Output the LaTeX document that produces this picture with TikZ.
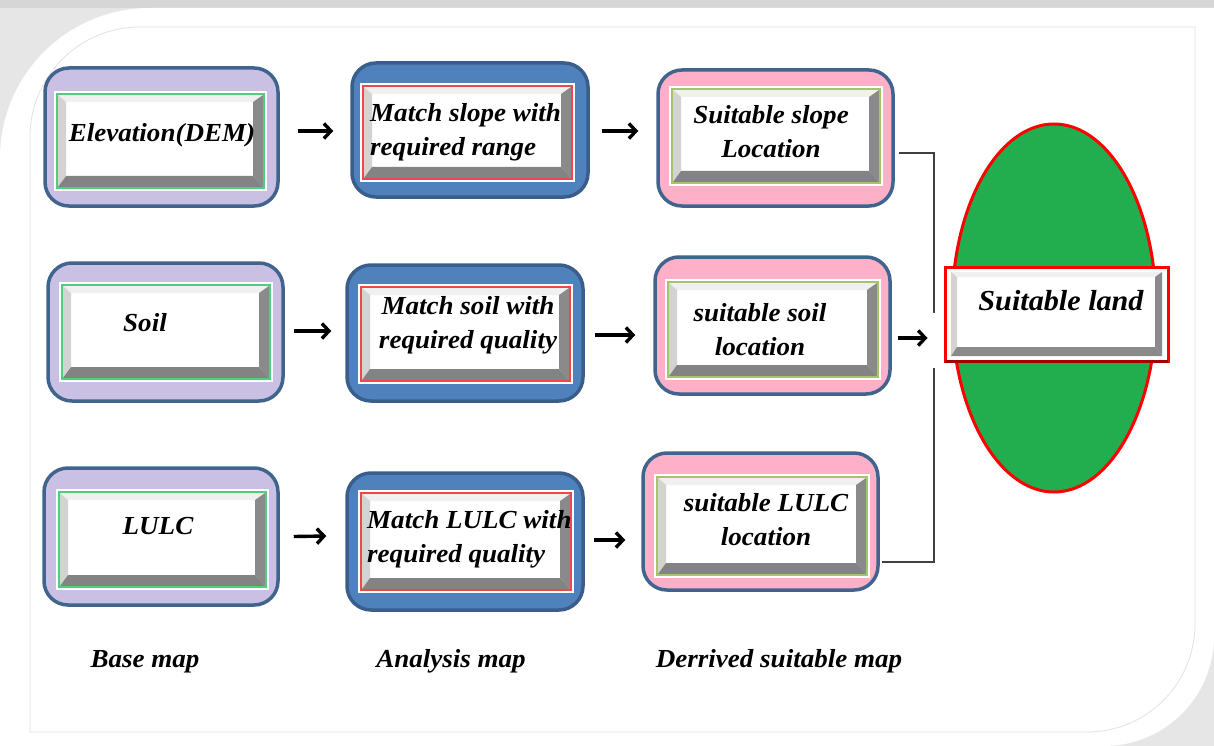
\documentclass[tikz,border=0pt]{standalone}
\usepackage{fontspec}
\setmainfont{Liberation Serif}[FakeStretch=1.04]
\usetikzlibrary{arrows.meta,calc,shapes.geometric}
\definecolor{frameblue}{HTML}{41648F}
\definecolor{anborder}{HTML}{3A5E8C}
\definecolor{anblue}{HTML}{4F81BD}
\definecolor{lav}{HTML}{C9C0E4}
\definecolor{pinkf}{HTML}{FDB0C8}
\definecolor{greenline}{HTML}{4DCF7F}
\definecolor{redline}{HTML}{F04848}
\definecolor{oliveline}{HTML}{A8C46A}
\definecolor{bevlight}{HTML}{D3D3D3}
\definecolor{bevtop}{HTML}{F0F0F0}
\definecolor{bevdark}{HTML}{8A8A8A}
\definecolor{landgreen}{HTML}{22AE4F}
\definecolor{shadowgray}{HTML}{E6E6E6}
\definecolor{topgray}{HTML}{D6D6D6}
\definecolor{innerline}{HTML}{E2E2E2}
\definecolor{connline}{HTML}{404040}
\newcommand\bevbox[5]{%
  \fill[white] (#1-3,#2-3) rectangle (#3+3,#4+3);
  \fill[white] (#1,#2) rectangle (#3,#4);
  \fill[bevtop] (#1+1,#2+1) -- (#3-1,#2+1) -- (#3-11,#2+8) -- (#1+9,#2+8) -- cycle;
  \fill[bevlight] (#1+1,#2+1) -- (#1+9,#2+8) -- (#1+9,#4-12) -- (#1+1,#4-1) -- cycle;
  \fill[bevdark] (#3-1,#2+1) -- (#3-1,#4-1) -- (#3-11,#4-12) -- (#3-11,#2+8) -- cycle;
  \fill[bevdark!95!black] (#1+1,#4-1) -- (#3-1,#4-1) -- (#3-11,#4-12) -- (#1+9,#4-12) -- cycle;
  \draw[#5, line width=1.6pt] (#1,#2) rectangle (#3,#4);
}
\begin{document}
\begin{tikzpicture}[x=1pt,y=-1pt,
  box/.style={rounded corners=24pt, line width=3.5pt, inner sep=0pt},
  basebox/.style={box, draw=frameblue, fill=lav},
  anbox/.style={box, draw=anborder, fill=anblue},
  derbox/.style={box, draw=frameblue, fill=pinkf},
  lbl/.style={font=\fontsize{26}{34}\selectfont\bfseries\itshape, inner sep=0pt, align=center, text=black},
  arr/.style={line width=3.4pt, -{Straight Barb[length=7pt,width=15pt]}},
  bracket/.style={line width=1.2pt, draw=connline}]
\useasboundingbox (0,0) rectangle (1214,746);
% frame
\fill[shadowgray] (0,0) rectangle (1214,746);
\fill[topgray] (0,0) rectangle (1214,8);
\fill[white] (0,746) -- (0,158) arc[start angle=180,end angle=270,radius=150] -- (1214,8) -- (1214,636) arc[start angle=0,end angle=90,radius=110] -- cycle;
\draw[innerline, line width=0.8pt] (30,732) -- (30,137) arc[start angle=180,end angle=270,radius=110] -- (1195,27) -- (1195,624) arc[start angle=0,end angle=90,radius=108] -- cycle;

% row 1
\node[basebox, minimum width=233pt, minimum height=138pt] (B1) at (161.5,137) {};
\node[anbox, minimum width=236pt, minimum height=134pt] (A1) at (470,130) {};
\node[derbox, minimum width=235pt, minimum height=136pt] (D1) at (775.5,138) {};
% row 2
\node[basebox, minimum width=235pt, minimum height=138pt] (B2) at (165.5,332) {};
\node[anbox, minimum width=236pt, minimum height=136pt] (A2) at (465,333) {};
\node[derbox, minimum width=235pt, minimum height=137pt] (D2) at (772.5,325.5) {};
% row 3
\node[basebox, minimum width=234pt, minimum height=137pt] (B3) at (161,536.5) {};
\node[anbox, minimum width=236pt, minimum height=137pt] (A3) at (465,541.5) {};
\node[derbox, minimum width=235pt, minimum height=137pt] (D3) at (760.5,521.5) {};

\bevbox{57}{94}{264}{188}{greenline}
\bevbox{363}{86}{572}{179}{redline}
\bevbox{672}{89}{880}{183}{oliveline}
\bevbox{62}{285}{270}{379}{greenline}
\bevbox{361}{287}{570}{381}{redline}
\bevbox{668}{282}{878}{377}{oliveline}
\bevbox{59}{492}{266}{587}{greenline}
\bevbox{361}{493}{571}{590}{redline}
\bevbox{657}{477}{867}{575}{oliveline}

% ellipse and final box
\node[ellipse, fill=landgreen, draw=red, line width=3pt, minimum width=204pt, minimum height=368pt, inner sep=0pt] (E) at (1054,308) {};
\node[draw=red, fill=white, line width=3pt, minimum width=223pt, minimum height=94pt, inner sep=0pt] (S) at (1056.5,314) {};
\fill[white] (951,272) rectangle (1162,356);
\fill[bevtop] (951,272) -- (1162,272) -- (1155,277) -- (957,277) -- cycle;
\fill[bevlight] (951,272) -- (957,277) -- (957,347) -- (951,356) -- cycle;
\fill[bevdark] (1162,272) -- (1162,356) -- (1155,347) -- (1155,277) -- cycle;
\fill[bevdark] (951,356) -- (1162,356) -- (1155,347) -- (957,347) -- cycle;
\draw[red!65!black, line width=3pt] (945,361) -- (1168,361);

% texts (base anchor = baseline of last line)
\node[lbl, anchor=base] (tB1) at (162,142) {Elevation(DEM)};
\node[lbl, anchor=base west, align=left] (tA1) at (370,156) {Match slope with\\required range};
\node[lbl, anchor=base] (tD1) at (771,158) {Suitable slope\\Location};
\node[lbl, anchor=base] (tB2) at (145,331) {Soil};
\node[lbl, anchor=base] (tA2) at (468,348) {Match soil with\\required quality};
\node[lbl, anchor=base] (tD2) at (760,355) {suitable soil\\location};
\node[lbl, anchor=base] (tB3) at (158,534) {LULC};
\node[lbl, anchor=base west, align=left] (tA3) at (367,562) {Match LULC with\\required quality};
\node[lbl, anchor=base] (tD3) at (766,545) {suitable LULC\\location};
\node[lbl, font=\fontsize{29}{34}\selectfont\bfseries\itshape, anchor=base] (tS) at (1061,310) {Suitable land};

\node[lbl, anchor=base] (L1) at (145,667) {Base map};
\node[lbl, anchor=base] (L2) at (451,667) {Analysis map};
\node[lbl, anchor=base] (L3) at (779,667) {Derrived suitable map};

% arrows
\draw[arr] ($(B1.east)+(18,-6)$) -- ($(A1.west)+(-17,1)$);
\draw[arr] ($(A1.east)+(12,1)$) -- ($(D1.west)+(-18,-7)$);
\draw[arr] ($(B2.east)+(9,-1)$) -- ($(A2.west)+(-14,-2)$);
\draw[arr] ($(A2.east)+(10,2)$) -- ($(D2.west)+(-18,9.5)$);
\draw[arr] ($(B3.east)+(14,0)$) -- ($(A3.west)+(-19,-5.5)$);
\draw[arr] ($(A3.east)+(9,-1.5)$) -- ($(D3.west)+(-16,18.5)$);

% bracket connector
\coordinate (J) at (934,340);
\draw[bracket] ($(D1.east)+(4,15)$) -| ($(J)+(0,-27)$);
\draw[bracket] ($(D3.east)+(2,40.5)$) -| ($(J)+(0,28)$);
\draw[arr] ($(D2.east)+(6,12.5)$) -- ($(S.west)+(-16,24)$);
\end{tikzpicture}
\end{document}
